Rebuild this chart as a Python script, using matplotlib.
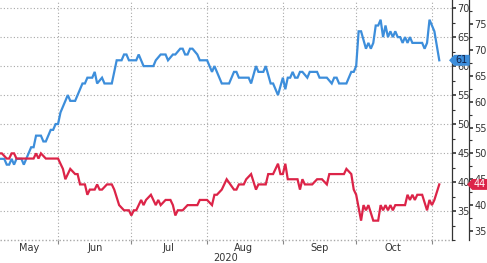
import numpy as np
import matplotlib
matplotlib.use("Agg")
import matplotlib.pyplot as plt
import matplotlib.dates as mdates
from matplotlib.patches import Polygon
from matplotlib.transforms import blended_transform_factory
from matplotlib.ticker import MultipleLocator, FixedLocator, NullFormatter

# ---- data (days counted from 2020-05-01) ----
blue_days = [7, 9, 10, 11, 12, 13, 14, 16, 17, 18, 20, 21, 22, 24, 25, 26, 28, 29, 30, 31,
             32, 35, 36, 38, 41, 42, 43, 45, 46, 47, 49, 50, 53, 55, 57, 58, 59, 60, 63, 64,
             66, 70, 71, 73, 75, 76, 78, 79, 81, 82, 83, 84, 85, 86, 88, 89, 92, 94, 95, 96,
             98, 101, 103, 104, 105, 109, 110, 112, 113, 115, 116, 118, 119, 121, 123, 124, 125, 126, 127, 128,
             129, 130, 131, 133, 134, 137, 138, 141, 143, 144, 145, 146, 149, 151, 152, 153, 154, 155, 157, 158,
             159, 160, 161, 162, 163, 164, 165, 166, 167, 168, 169, 170, 171, 172, 173, 174, 175, 176, 180, 181,
             182, 183, 185, 187]
blue_vals = [44, 44, 43, 43, 44, 43, 44, 44, 43, 44, 46, 46, 48, 48, 47, 47, 49, 49, 50, 50,
             52, 55, 54, 54, 57, 57, 58, 58, 59, 57, 58, 57, 57, 61, 61, 62, 62, 61, 61, 62,
             60, 60, 61, 62, 62, 61, 62, 62, 63, 63, 62, 62, 63, 63, 62, 61, 61, 59, 60, 59,
             57, 57, 59, 59, 58, 58, 57, 60, 59, 59, 60, 57, 57, 55, 58, 56, 58, 58, 59, 58,
             58, 59, 59, 58, 59, 59, 58, 58, 57, 58, 58, 57, 57, 59, 59, 60, 66, 66, 63, 64,
             63, 64, 67, 67, 68, 65, 67, 65, 66, 65, 66, 65, 65, 64, 65, 64, 65, 64, 64, 63,
             64, 68, 66, 61]

red_days = [7, 8, 10, 11, 12, 13, 14, 19, 21, 22, 23, 24, 26, 31, 33, 34, 36, 38, 39, 40,
            42, 43, 44, 46, 47, 48, 49, 51, 53, 54, 56, 58, 60, 61, 62, 63, 65, 66, 67, 69,
            70, 71, 72, 73, 75, 77, 78, 79, 80, 82, 84, 88, 89, 92, 94, 95, 96, 98, 100, 103,
            104, 105, 107, 108, 110, 112, 113, 116, 117, 119, 121, 122, 123, 124, 125, 129, 130, 131, 132, 135,
            137, 139, 141, 142, 148, 149, 151, 152, 153, 155, 156, 157, 158, 160, 162, 163, 164, 165, 166, 167,
            168, 169, 173, 174, 175, 176, 177, 178, 180, 182, 183, 184, 185, 187]
red_vals = [50, 50, 49, 49, 50, 50, 49, 49, 49, 50, 49, 50, 49, 49, 47, 45, 47, 46, 46, 44,
            44, 42, 43, 43, 44, 43, 43, 44, 44, 43, 40, 39, 39, 38, 39, 39, 41, 40, 41, 42,
            41, 40, 41, 40, 41, 41, 40, 38, 39, 39, 40, 40, 41, 41, 40, 42, 42, 43, 45, 43,
            43, 44, 44, 45, 46, 43, 44, 44, 46, 46, 48, 46, 46, 48, 45, 45, 43, 45, 44, 44,
            45, 45, 44, 46, 46, 47, 46, 43, 42, 37, 40, 39, 40, 37, 37, 40, 39, 40, 39, 40,
            39, 40, 40, 42, 41, 42, 41, 42, 42, 39, 41, 40, 41, 44]

month_starts = ["2020-06-01", "2020-07-01", "2020-08-01", "2020-09-01", "2020-10-01", "2020-11-01"]
month_label_pos = ["2020-05-20", "2020-06-16", "2020-07-16", "2020-08-16", "2020-09-16", "2020-10-16"]
month_labels = ["May", "Jun", "Jul", "Aug", "Sep", "Oct"]
year_label = "2020"
blue_last, red_last = "61", "44"

BLUE = "#3d8edb"
RED = "#dc2448"
TXT = "#333333"
GRID = "#a8a8a8"

base = np.datetime64("2020-05-01")
bd = base + np.array(blue_days).astype("timedelta64[D]")
rd = base + np.array(red_days).astype("timedelta64[D]")

plt.rcParams["font.family"] = ["DejaVu Sans"]
fig = plt.figure(figsize=(4.87, 2.63), dpi=100)
ax = fig.add_axes([0.0, 1 - 240 / 263, 452 / 487, 240 / 263])
ax2 = ax.twinx()

ax.plot(bd, blue_vals, color=BLUE, lw=1.6, zorder=3, solid_joinstyle="miter")
ax2.plot(rd, red_vals, color=RED, lw=1.6, zorder=3, solid_joinstyle="miter")

x0 = np.datetime64("2020-05-01") + np.timedelta64(7, "D") + np.timedelta64(6, "h")
x1 = np.datetime64("2020-11-09") + np.timedelta64(5, "h")
ax.set_xlim(x0, x1)
ax.set_ylim(30, 71.4)
ax2.set_ylim(33.26, 79.64)

# y axes on the right
ax.yaxis.tick_right()
ax.yaxis.set_major_locator(FixedLocator([35, 40, 45, 50, 55, 60, 65, 70]))
ax.yaxis.set_minor_locator(MultipleLocator(2.5))
ax2.yaxis.set_major_locator(FixedLocator([35, 40, 45, 50, 55, 60, 65, 70, 75]))
ax2.yaxis.set_minor_locator(MultipleLocator(2.5))
for a in (ax, ax2):
    a.tick_params(axis="y", which="major", direction="out", length=3, width=1.2,
                  color=TXT, labelsize=7, labelcolor=TXT, pad=1)
    a.tick_params(axis="y", which="minor", direction="out", length=2, width=0.8, color=TXT)
    for s in ("top", "left", "bottom"):
        a.spines[s].set_visible(False)
    a.spines["right"].set_color(TXT)
    a.spines["right"].set_linewidth(0.9)
ax2.spines["right"].set_position(("outward", 17 * 72 / 100))

# x axis
ax.xaxis.set_major_locator(FixedLocator(mdates.date2num(np.array(month_starts, dtype="datetime64[D]"))))
ax.xaxis.set_major_formatter(NullFormatter())
ax.xaxis.set_minor_locator(FixedLocator(mdates.date2num(np.array(month_label_pos, dtype="datetime64[D]"))))
ax.xaxis.set_minor_formatter(matplotlib.ticker.FixedFormatter(month_labels))
ax.tick_params(axis="x", which="major", direction="out", length=3, width=0.8, color="#888888")
ax.tick_params(axis="x", which="minor", length=0, labelsize=7, labelcolor=TXT, pad=2)
ax2.tick_params(axis="x", which="both", length=0)

ax.grid(True, which="major", axis="both", color=GRID, linestyle=(0, (1, 2)), linewidth=0.8)
ax.axhline(30, color=GRID, linestyle=(0, (1, 1.5)), linewidth=1.0, clip_on=False, zorder=1)

fig.text(226 / 487, 1 - 258 / 263, year_label, ha="center", va="center", fontsize=7, color=TXT)

# last-value tags
def tag(yaxis_ax, val, color, txtcolor, xl, text):
    tr = blended_transform_factory(ax2.transAxes, yaxis_ax.transData)
    lo, hi = yaxis_ax.get_ylim()
    h = 9.5 * (hi - lo) / 240 / 2
    w = 4.5 / 452
    right = xl + 19 / 452
    poly = Polygon([(xl, val), (xl + w, val + h), (right, val + h), (right, val - h), (xl + w, val - h)],
                   closed=True, facecolor=color, edgecolor=color, transform=tr, clip_on=False, zorder=10)
    ax2.add_patch(poly)
    ax2.text((xl + w + right) / 2, val, text, transform=tr, ha="center", va="center",
             fontsize=7, color=txtcolor, zorder=11, clip_on=False)

tag(ax, float(blue_last), BLUE, "#10224a", 450 / 452, blue_last)
tag(ax2, float(red_last), RED, "white", 468 / 452, red_last)

fig.savefig("out.png", dpi=100)
